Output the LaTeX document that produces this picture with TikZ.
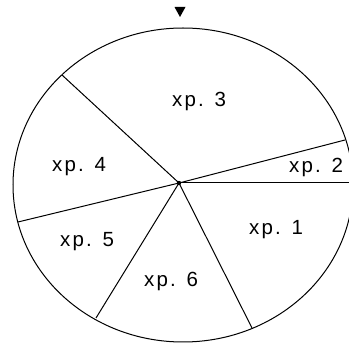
\documentclass[tikz,border=0pt]{standalone}
\usepackage{fontspec}
\setmainfont{Liberation Sans}[LetterSpace=11]
\begin{document}
\begin{tikzpicture}[x=1pt,y=1pt,
  rim/.style={draw=black,line width=1pt},
  spoke/.style={draw=black,line width=1pt},
  lbl/.style={anchor=base,inner sep=0pt,font=\fontsize{20.5}{22}\selectfont}]
\useasboundingbox (0,0) rectangle (349,343);
\clip (0,0) rectangle (349,343);
\fill[white] (0,0) rectangle (349,343);
% ellipse rim
\draw[rim] (183,158) ellipse [x radius=170, y radius=157];
% centre and spoke ends
\coordinate (c) at (179,160);
\coordinate (e1) at (360,160);
\coordinate (e2) at (345,203);
\coordinate (e3) at (62,268);
\coordinate (e4) at (18,121);
\coordinate (e5) at (96,25);
\coordinate (e6) at (252,15);
\foreach \e in {e1,e2,e3,e4,e5,e6} \draw[spoke] (c) -- (\e);
\fill[black] (c) circle (2.2);
% pointer at the top
\fill[black] (174.5,336) -- (185.5,336) -- (180,326) -- cycle;
% labels
\node[lbl] (l3) at (199,236) {xp. 3};
\node[lbl] (l2) at (316,170) {xp. 2};
\node[lbl] (l4) at (79,171) {xp. 4};
\node[lbl] (l1) at (276,108) {xp. 1};
\node[lbl] (l5) at (87,96) {xp. 5};
\node[lbl] (l6) at (171,56) {xp. 6};
\end{tikzpicture}
\end{document}
